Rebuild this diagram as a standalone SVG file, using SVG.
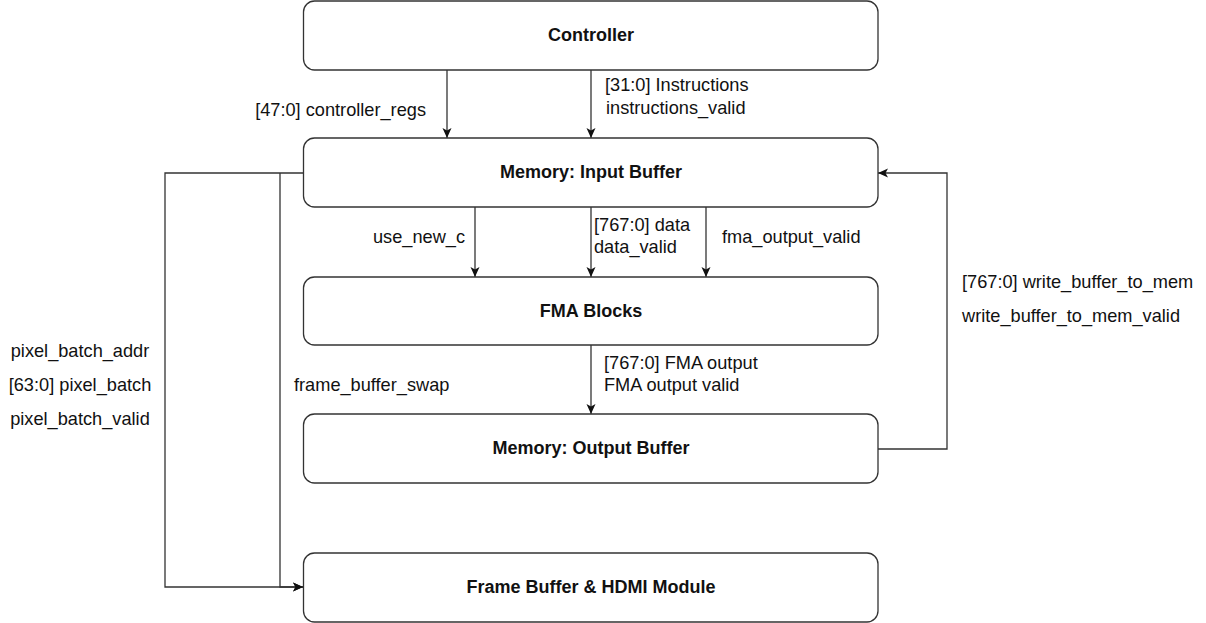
<svg xmlns="http://www.w3.org/2000/svg" width="1206" height="623" viewBox="0 0 1206 623">
<style>
.box{fill:#fff;stroke:#333;stroke-width:1.3}
.t{font-family:"Liberation Sans",Arial,sans-serif;font-size:18.2px;fill:#111}
.b{font-weight:bold;text-anchor:middle;font-size:18px}
.c{fill:none;stroke:#333;stroke-width:1.3}
</style>
<defs>
<marker id="ah" viewBox="0 0 10 10" refX="10" refY="5" markerWidth="10" markerHeight="10" markerUnits="userSpaceOnUse" orient="auto">
<path d="M0,0.5 L10,5 L0,9.5 L2.5,5 Z" fill="#111"/>
</marker>
</defs>
<rect width="1206" height="623" fill="#fff"/>
<g id="connectors">
<line class="c" x1="447" y1="70" x2="447" y2="138" marker-end="url(#ah)"/>
<line class="c" x1="591" y1="70" x2="591" y2="138" marker-end="url(#ah)"/>
<line class="c" x1="475" y1="207" x2="475" y2="277" marker-end="url(#ah)"/>
<line class="c" x1="591" y1="207" x2="591" y2="277" marker-end="url(#ah)"/>
<line class="c" x1="706" y1="207" x2="706" y2="277" marker-end="url(#ah)"/>
<line class="c" x1="591" y1="345" x2="591" y2="414" marker-end="url(#ah)"/>
<polyline class="c" points="878,449 947,449 947,173 878,173" marker-end="url(#ah)"/>
<polyline class="c" points="303,173 165,173 165,587 303,587" marker-end="url(#ah)"/>
<polyline class="c" points="280,173 280,587 303,587" marker-end="url(#ah)"/>
<text class="t" x="426" y="116" text-anchor="end">[47:0] controller_regs</text>
<text class="t" x="605" y="91">[31:0] Instructions</text>
<text class="t" x="606" y="114">instructions_valid</text>
<text class="t" x="465" y="243" text-anchor="end">use_new_c</text>
<text class="t" x="594" y="231">[767:0] data</text>
<text class="t" x="594" y="253">data_valid</text>
<text class="t" x="722" y="243">fma_output_valid</text>
<text class="t" x="604" y="369">[767:0] FMA output</text>
<text class="t" x="604" y="391">FMA output valid</text>
<text class="t" x="962" y="288">[767:0] write_buffer_to_mem</text>
<text class="t" x="962" y="322">write_buffer_to_mem_valid</text>
<text class="t" x="80" y="357" text-anchor="middle">pixel_batch_addr</text>
<text class="t" x="80" y="391" text-anchor="middle">[63:0] pixel_batch</text>
<text class="t" x="80" y="425" text-anchor="middle">pixel_batch_valid</text>
<text class="t" x="294" y="391">frame_buffer_swap</text>
</g>
<g id="controller">
<rect class="box" x="303.5" y="1" width="574.5" height="69" rx="11"/>
<text class="t b" x="591" y="41">Controller</text>
</g>
<g id="input-buffer">
<rect class="box" x="303.5" y="138" width="574.5" height="69" rx="11"/>
<text class="t b" x="591" y="178">Memory: Input Buffer</text>
</g>
<g id="fma-blocks">
<rect class="box" x="303.5" y="277" width="574.5" height="68" rx="11"/>
<text class="t b" x="591" y="317">FMA Blocks</text>
</g>
<g id="output-buffer">
<rect class="box" x="303.5" y="414" width="574.5" height="69" rx="11"/>
<text class="t b" x="591" y="454">Memory: Output Buffer</text>
</g>
<g id="frame-buffer">
<rect class="box" x="303.5" y="553" width="574.5" height="69" rx="11"/>
<text class="t b" x="591" y="593">Frame Buffer &amp; HDMI Module</text>
</g>
</svg>
